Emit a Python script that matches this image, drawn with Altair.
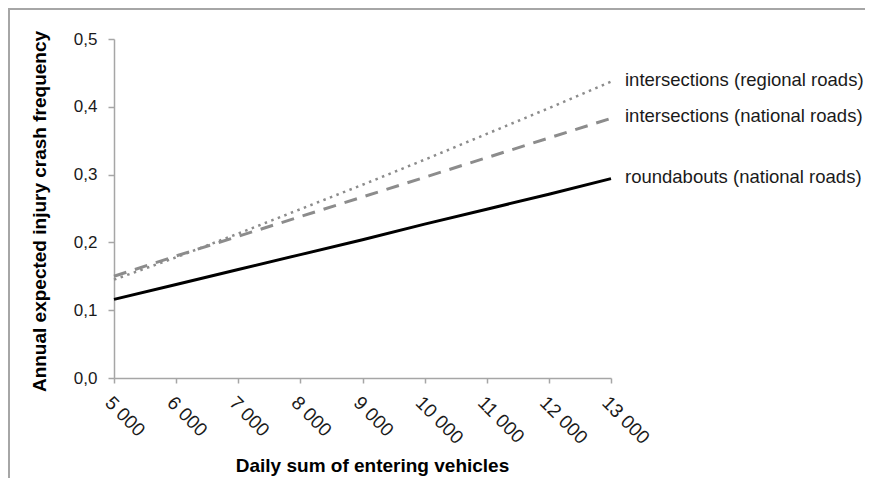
import altair as alt
import pandas as pd

vehicles = [5000, 6000, 7000, 8000, 9000, 10000, 11000, 12000, 13000]
roundabouts_national = [0.116, 0.138, 0.160, 0.182, 0.204, 0.227, 0.249, 0.271, 0.294]
intersections_national = [0.150, 0.180, 0.209, 0.238, 0.267, 0.296, 0.325, 0.354, 0.383]
intersections_regional = [0.145, 0.178, 0.213, 0.249, 0.285, 0.322, 0.360, 0.398, 0.437]
series_names = [
    "roundabouts (national roads)",
    "intersections (national roads)",
    "intersections (regional roads)",
]
y_ticks = [0.0, 0.1, 0.2, 0.3, 0.4, 0.5]
x_ticks = vehicles

rows = []
for name, vals in zip(series_names, [roundabouts_national, intersections_national, intersections_regional]):
    for xv, yv in zip(vehicles, vals):
        rows.append({"x": xv, "y": yv, "series": name})
df = pd.DataFrame(rows)
last = df[df["x"] == vehicles[-1]]

FONT = "Liberation Sans"

xenc = alt.X(
    "x:Q",
    scale=alt.Scale(domain=[vehicles[0], vehicles[-1]], nice=False, zero=False),
    axis=alt.Axis(
        title="Daily sum of entering vehicles",
        values=x_ticks,
        labelExpr="replace(format(datum.value, ','), ',', ' ')",
        labelAngle=45,
        labelAlign="left",
        labelBaseline="top",
        labelPadding=10,
        tickSize=5,
        labelFontSize=19,
        titleFontSize=19,
        titleFontWeight="bold",
        titleX=258,
        titleY=87,
        titleAlign="center",
        titleBaseline="middle",
    ),
)
yenc = alt.Y(
    "y:Q",
    scale=alt.Scale(domain=[0, 0.5], nice=False),
    axis=alt.Axis(
        title="Annual expected injury crash frequency",
        values=y_ticks,
        labelExpr="replace(format(datum.value, '.1f'), '.', ',')",
        tickSize=6,
        labelPadding=11,
        labelFontSize=17,
        titleFontSize=19,
        titleFontWeight="bold",
        titleX=-75,
        titleY=172,
        titleAngle=270,
        titleAlign="center",
        titleBaseline="middle",
    ),
)

base = alt.Chart(df)

solid = base.transform_filter(alt.datum.series == series_names[0]).mark_line(
    color="#000000", strokeWidth=3
).encode(x=xenc, y=yenc)
dashed = base.transform_filter(alt.datum.series == series_names[1]).mark_line(
    color="#8c8c8c", strokeWidth=3, strokeDash=[13, 9]
).encode(x=xenc, y=yenc)
dotted = base.transform_filter(alt.datum.series == series_names[2]).mark_line(
    color="#8c8c8c", strokeWidth=2.5, strokeDash=[2.5, 4.5]
).encode(x=xenc, y=yenc)

labels = alt.Chart(last).mark_text(
    align="left", baseline="middle", dx=14, dy=-2, fontSize=18.5, font=FONT, color="#1a1a1a"
).encode(x="x:Q", y="y:Q", text="series:N")

border_top = alt.Chart(last.head(1)).mark_rule(color="#a6a6a6", strokeWidth=2).encode(
    x=alt.value(-106), x2=alt.value(760), y=alt.value(-30)
)
border_left = alt.Chart(last.head(1)).mark_rule(color="#a6a6a6", strokeWidth=2).encode(
    x=alt.value(-105), y=alt.value(-31), y2=alt.value(450)
)

chart = (
    alt.layer(dotted, dashed, solid, labels, border_top, border_left)
    .properties(
        width=497,
        height=339,
        autosize=alt.AutoSizeParams(type="none"),
        padding={"left": 106, "top": 31, "right": 254, "bottom": 100},
    )
    .configure_view(stroke=None)
    .configure_axis(
        grid=False,
        domainColor="#a6a6a6",
        tickColor="#a6a6a6",
        domainWidth=1.5,
        tickWidth=1.5,
        labelColor="#1a1a1a",
        titleColor="#000000",
        labelFont=FONT,
        titleFont=FONT,
    )
)

chart.save("out.html", embed_options={"renderer": "svg", "actions": False})
